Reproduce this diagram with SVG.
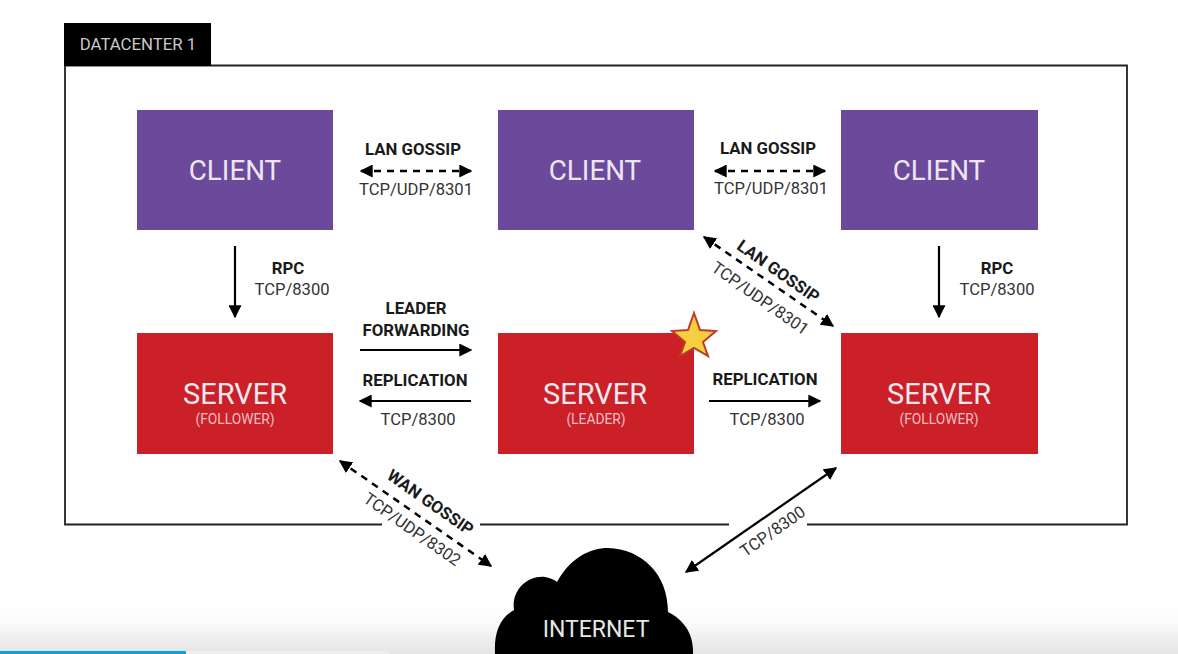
<svg xmlns="http://www.w3.org/2000/svg" width="1178" height="654" viewBox="0 0 1178 654">
<defs>
<linearGradient id="fade" x1="0" y1="0" x2="0" y2="1"><stop offset="0" stop-color="#ffffff"/><stop offset="0.4" stop-color="#fbfbfb"/><stop offset="1" stop-color="#e4e4e4"/></linearGradient>
<marker id="ah" viewBox="0 0 10 10" refX="9" refY="5" markerWidth="13" markerHeight="13" markerUnits="userSpaceOnUse" orient="auto-start-reverse"><path d="M0 0L10 5L0 10Z" fill="#000"/></marker>
</defs>
<style>
text{font-family:"Roboto","Liberation Sans",sans-serif;text-anchor:middle}
.big{font-size:29px;fill:#f1e9ef}
.cl{font-size:27.800px;fill:#ece6f2}
.sub{font-size:13.800px;fill:#eebfc4}
.b{font-size:16.800px;font-weight:700;fill:#1a1a1a}
.r{font-size:16.600px;fill:#333}
.client{fill:#6b4a9c}
.server{fill:#cb2027}
.solid{fill:none;stroke:#000;stroke-width:2.2px;marker-end:url(#ah)}
.both{marker-start:url(#ah)}
.dash{stroke-dasharray:7 6;stroke-width:2.500px}
</style>
<rect width="1178" height="654" fill="#fff"/>
<rect x="0" y="600" width="1178" height="54" fill="url(#fade)"/>
<rect x="0" y="651" width="186" height="3" fill="#0ca3d9"/>
<rect x="186" y="651" width="204" height="3" fill="#eeeeee"/>
<g id="datacenter">
<path d="M382 524.500H65V65.500H1127V524.500H807" fill="none" stroke="#222" stroke-width="1.800"/>
<path d="M480 524.500H729" fill="none" stroke="#222" stroke-width="1.800"/>
<rect x="64" y="23" width="147" height="43" fill="#000"/>
<text x="138" y="50" fill="#c8c8c8" style="font-size:16.800px">DATACENTER 1</text>
</g>
<g id="connectors">
<path class="solid both dash" d="M361 171H471"/>
<path class="solid both dash" d="M715 171H825"/>
<path class="solid" d="M235 246V317"/>
<path class="solid" d="M939 246V317"/>
<path class="solid" d="M360 350H471"/>
<path class="solid" d="M471 401H360"/>
<path class="solid" d="M709 401H820"/>
<path class="solid both dash" d="M704 237L833 326"/>
<path class="solid both dash" d="M340 461L491 566"/>
<path class="solid both" d="M686 572L836 468"/>
</g>
<g id="client-left"><rect class="client" x="137" y="110" width="196" height="120"/><text class="cl" x="235" y="180">CLIENT</text></g>
<g id="client-middle"><rect class="client" x="498" y="110" width="196" height="120"/><text class="cl" x="595" y="180">CLIENT</text></g>
<g id="client-right"><rect class="client" x="841" y="110" width="197" height="120"/><text class="cl" x="939" y="180">CLIENT</text></g>
<g id="server-left"><rect class="server" x="137" y="333" width="196" height="121"/><text class="big" x="235" y="404">SERVER</text><text class="sub" x="235" y="424">(FOLLOWER)</text></g>
<g id="server-middle"><rect class="server" x="498" y="333" width="196" height="121"/><text class="big" x="595" y="404">SERVER</text><text class="sub" x="596" y="424">(LEADER)</text></g>
<g id="server-right"><rect class="server" x="841" y="333" width="197" height="121"/><text class="big" x="939" y="404">SERVER</text><text class="sub" x="939" y="424">(FOLLOWER)</text></g>
<g id="leader-star"><path d="M694 313L700 330L716 331L703 342L708 356L694 348L680 356L685 342L672 331L688 330Z" fill="#f4d03f" stroke="#c0392b" stroke-width="2"/></g>
<g id="internet">
<path d="M495 654C494 632 500 618 514 610C511 590 528 575 545 577C551 578 555 580 557 582C570 558 590 548 608 548C642 549 668 574 668 612C684 620 694 634 693 654Z" fill="#000"/>
<text x="596" y="637" style="font-size:23px" fill="#e8e8e8">INTERNET</text>
</g>
<g id="labels">
<text class="b" x="413" y="155">LAN GOSSIP</text>
<text class="r" x="416" y="195">TCP/UDP/8301</text>
<text class="b" x="768" y="154">LAN GOSSIP</text>
<text class="r" x="771" y="194">TCP/UDP/8301</text>
<text class="b" x="288" y="274">RPC</text>
<text class="r" x="292" y="295">TCP/8300</text>
<text class="b" x="997" y="274">RPC</text>
<text class="r" x="997" y="295">TCP/8300</text>
<text class="b" x="416" y="314">LEADER</text>
<text class="b" x="416" y="336">FORWARDING</text>
<text class="b" x="415" y="386">REPLICATION</text>
<text class="r" x="418" y="425">TCP/8300</text>
<text class="b" x="765" y="385">REPLICATION</text>
<text class="r" x="767" y="425">TCP/8300</text>
<text class="b" transform="translate(775 276) rotate(35)">LAN GOSSIP</text>
<text class="r" transform="translate(757 303) rotate(35)">TCP/UDP/8301</text>
<text class="b" transform="translate(427 507) rotate(35)">WAN GOSSIP</text>
<text class="r" transform="translate(409 534) rotate(35)">TCP/UDP/8302</text>
<text class="r" transform="translate(776 536) rotate(-35)">TCP/8300</text>
</g>
</svg>
